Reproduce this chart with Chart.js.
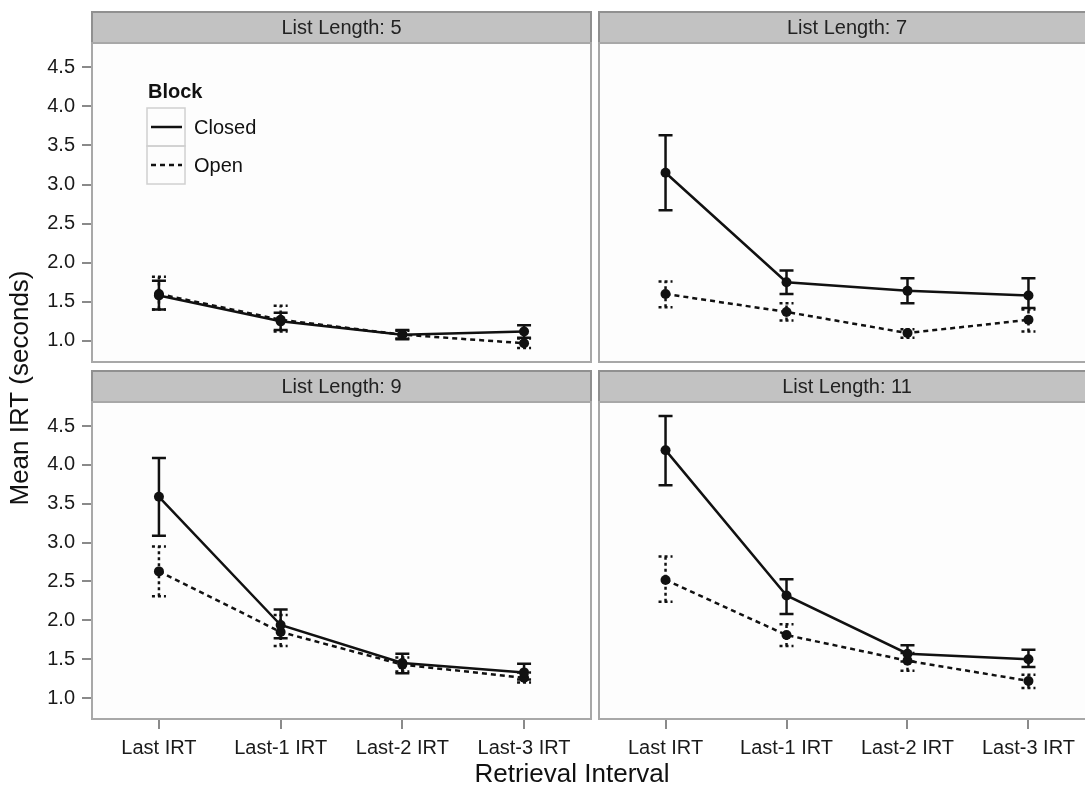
<!DOCTYPE html>
<html><head><meta charset="utf-8">
<script src="https://cdn.jsdelivr.net/npm/chart.js@4.4.0/dist/chart.umd.min.js"></script>
<style>
html,body{margin:0;padding:0;background:#fff;overflow:hidden;width:1085px;height:787px;}
#wrap{position:relative;width:1100px;height:787px;}
canvas{position:absolute;left:0;top:0;}
</style></head><body>
<div id="wrap">
<canvas id="c0" width="1100" height="787"></canvas>
<canvas id="c1" width="1100" height="787"></canvas>
<canvas id="c2" width="1100" height="787"></canvas>
<canvas id="c3" width="1100" height="787"></canvas>
</div>
<script>
// ---- data ----
const categories = ['Last IRT', 'Last-1 IRT', 'Last-2 IRT', 'Last-3 IRT'];
const panelTitles = ['List Length: 5', 'List Length: 7', 'List Length: 9', 'List Length: 11'];
const seriesNames = ['Closed', 'Open'];
const legendTitle = 'Block';
const xAxisTitle = 'Retrieval Interval';
const yAxisTitle = 'Mean IRT (seconds)';
const yTicks = [1.0, 1.5, 2.0, 2.5, 3.0, 3.5, 4.0, 4.5];

const closedMean5 = [1.58, 1.25, 1.08, 1.12];
const closedLo5   = [1.40, 1.14, 1.02, 1.04];
const closedHi5   = [1.77, 1.36, 1.14, 1.20];
const openMean5   = [1.60, 1.27, 1.08, 0.97];
const openLo5     = [1.40, 1.12, 1.03, 0.91];
const openHi5     = [1.82, 1.45, 1.13, 1.03];

const closedMean7 = [3.15, 1.75, 1.64, 1.58];
const closedLo7   = [2.67, 1.60, 1.48, 1.42];
const closedHi7   = [3.63, 1.90, 1.80, 1.80];
const openMean7   = [1.60, 1.37, 1.10, 1.27];
const openLo7     = [1.43, 1.26, 1.04, 1.12];
const openHi7     = [1.76, 1.48, 1.15, 1.40];

const closedMean9 = [3.59, 1.94, 1.45, 1.33];
const closedLo9   = [3.09, 1.77, 1.32, 1.24];
const closedHi9   = [4.09, 2.14, 1.57, 1.44];
const openMean9   = [2.63, 1.85, 1.43, 1.26];
const openLo9     = [2.31, 1.67, 1.34, 1.20];
const openHi9     = [2.95, 2.07, 1.52, 1.33];

const closedMean11 = [4.19, 2.32, 1.57, 1.50];
const closedLo11   = [3.74, 2.08, 1.47, 1.40];
const closedHi11   = [4.63, 2.53, 1.68, 1.62];
const openMean11   = [2.52, 1.81, 1.48, 1.22];
const openLo11     = [2.24, 1.67, 1.35, 1.13];
const openHi11     = [2.82, 1.95, 1.58, 1.30];

// ---- layout ----
const FONT = '"Liberation Sans", Arial, Helvetica, sans-serif';
const W = 1100, H = 787;
const panels = [
  {title: panelTitles[0], area: {l: 92,  t: 43,  r: 591,  b: 362}, showY: true,  showX: false, legend: true,
   closed: [closedMean5, closedLo5, closedHi5], open: [openMean5, openLo5, openHi5]},
  {title: panelTitles[1], area: {l: 599, t: 43,  r: 1098, b: 362}, showY: false, showX: false, legend: false,
   closed: [closedMean7, closedLo7, closedHi7], open: [openMean7, openLo7, openHi7]},
  {title: panelTitles[2], area: {l: 92,  t: 402, r: 591,  b: 719}, showY: true,  showX: true, legend: false, axisTitles: true,
   closed: [closedMean9, closedLo9, closedHi9], open: [openMean9, openLo9, openHi9]},
  {title: panelTitles[3], area: {l: 599, t: 402, r: 1098, b: 719}, showY: false, showX: true, legend: false,
   closed: [closedMean11, closedLo11, closedHi11], open: [openMean11, openLo11, openHi11]},
];

const facetPlugin = {
  id: 'facet',
  beforeDraw(chart, args, opts) {
    const ctx = chart.ctx, a = chart.chartArea;
    ctx.save();
    ctx.fillStyle = '#fdfdfd';
    ctx.fillRect(a.left, a.top, a.right - a.left, a.bottom - a.top);
    // strip
    const sh = 31;
    ctx.fillStyle = '#c2c2c2';
    ctx.fillRect(a.left, a.top - sh, a.right - a.left, sh);
    ctx.strokeStyle = '#909090';
    ctx.lineWidth = 2;
    ctx.strokeRect(a.left, a.top - sh, a.right - a.left, sh);
    ctx.fillStyle = '#222';
    ctx.font = '20px ' + FONT;
    ctx.textAlign = 'center';
    ctx.textBaseline = 'middle';
    ctx.fillText(opts.title, (a.left + a.right) / 2, a.top - sh / 2 + 1);
    ctx.restore();
  },
  beforeDatasetsDraw(chart) {
    const ctx = chart.ctx;
    const xs = chart.scales.x, ys = chart.scales.y;
    ctx.save();
    chart.data.datasets.forEach((ds) => {
      ctx.strokeStyle = '#111';
      ctx.lineWidth = 2.5;
      ctx.setLineDash(ds.borderDash && ds.borderDash.length ? [3, 3] : []);
      ds.data.forEach((p, i) => {
        const x = xs.getPixelForValue(p.x);
        const y1 = ys.getPixelForValue(ds.errLo[i]);
        const y2 = ys.getPixelForValue(ds.errHi[i]);
        ctx.beginPath();
        ctx.moveTo(x, y1); ctx.lineTo(x, y2);
        ctx.moveTo(x - 7, y1); ctx.lineTo(x + 7, y1);
        ctx.moveTo(x - 7, y2); ctx.lineTo(x + 7, y2);
        ctx.stroke();
      });
    });
    ctx.restore();
  },
  afterDraw(chart, args, opts) {
    const ctx = chart.ctx, a = chart.chartArea;
    ctx.save();
    ctx.strokeStyle = '#a8a8a8';
    ctx.lineWidth = 2;
    ctx.setLineDash([]);
    ctx.strokeRect(a.left, a.top, a.right - a.left, a.bottom - a.top);
    if (opts.legend) {
      ctx.fillStyle = '#111';
      ctx.font = 'bold 20px ' + FONT;
      ctx.textAlign = 'left';
      ctx.textBaseline = 'middle';
      ctx.fillText(legendTitle, 148, 92);
      const dss = chart.data.datasets;
      dss.forEach((ds, k) => {
        const by = 108 + k * 38;
        ctx.strokeStyle = '#d0d0d0';
        ctx.lineWidth = 1.5;
        ctx.setLineDash([]);
        ctx.strokeRect(147, by, 38, 38);
        ctx.strokeStyle = '#111';
        ctx.lineWidth = ds.borderWidth;
        ctx.setLineDash(ds.borderDash || []);
        ctx.beginPath();
        ctx.moveTo(151, by + 19); ctx.lineTo(182, by + 19);
        ctx.stroke();
        ctx.setLineDash([]);
        ctx.font = '20px ' + FONT;
        ctx.fillStyle = '#111';
        ctx.fillText(ds.label, 194, by + 20);
      });
    }
    if (opts.axisTitles) {
      ctx.fillStyle = '#111';
      ctx.font = '26px ' + FONT;
      ctx.textAlign = 'center';
      ctx.textBaseline = 'middle';
      ctx.fillText(xAxisTitle, 572, 775);
      ctx.translate(21, 388);
      ctx.rotate(-Math.PI / 2);
      ctx.fillText(yAxisTitle, 0, 0);
    }
    ctx.restore();
  }
};

panels.forEach((p, idx) => {
  const a = p.area;
  const mk = (arr, name, dashed) => ({
    label: name,
    data: arr[0].map((v, i) => ({x: i, y: v})),
    errLo: arr[1], errHi: arr[2],
    borderColor: '#111', backgroundColor: '#111',
    borderWidth: 2.5,
    borderDash: dashed ? [5, 4] : [],
    pointRadius: 5, pointBackgroundColor: '#111', pointBorderWidth: 0,
    tension: 0, fill: false, showLine: true,
  });
  new Chart(document.getElementById('c' + idx), {
    type: 'line',
    data: {datasets: [mk(p.closed, seriesNames[0], false), mk(p.open, seriesNames[1], true)]},
    plugins: [facetPlugin],
    options: {
      responsive: false, animation: false, events: [],
      layout: {padding: {
        left: p.showY ? 0 : a.l, top: a.t, right: W - a.r,
        bottom: p.showX ? 0 : H - a.b}},
      plugins: {
        legend: {display: false}, tooltip: {enabled: false},
        facet: {title: p.title, legend: p.legend, axisTitles: !!p.axisTitles}
      },
      scales: {
        x: {
          type: 'linear', min: -0.55, max: 3.55, display: p.showX,
          afterBuildTicks: (s) => { s.ticks = categories.map((c, i) => ({value: i})); },
          afterFit: (s) => { s.height = p.showX ? H - a.b : 0; },
          ticks: {callback: (v) => categories[v], font: {size: 20, family: FONT}, color: '#1a1a1a',
                  padding: 7, maxRotation: 0, autoSkip: false},
          grid: {display: true, drawOnChartArea: false, drawTicks: true, tickLength: 10, color: '#8a8a8a', lineWidth: 2},
          border: {display: false}
        },
        y: {
          type: 'linear', min: 0.73, max: 4.81, display: p.showY,
          afterBuildTicks: (s) => { s.ticks = yTicks.map((v) => ({value: v})); },
          afterFit: (s) => { s.width = p.showY ? a.l : 0; },
          ticks: {callback: (v) => Number(v).toFixed(1), font: {size: 20, family: FONT}, color: '#1a1a1a', padding: 7},
          grid: {display: true, drawOnChartArea: false, drawTicks: true, tickLength: 10, color: '#8a8a8a', lineWidth: 2},
          border: {display: false}
        }
      }
    }
  });
});
</script>
</body></html>
